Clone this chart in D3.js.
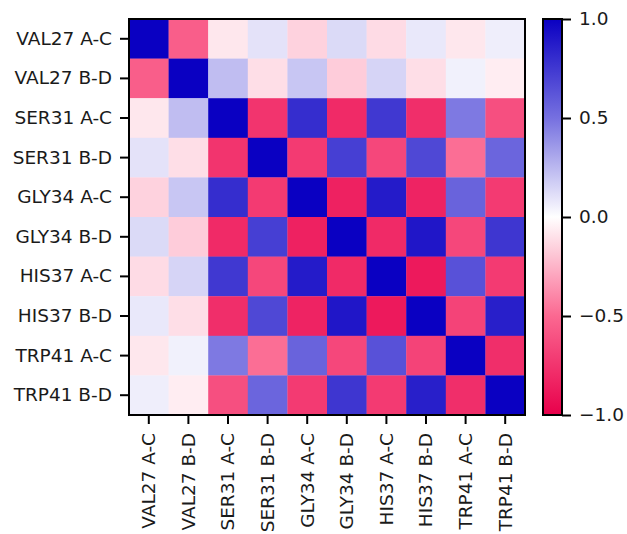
<!DOCTYPE html>
<html>
<head>
<meta charset="utf-8">
<script src="https://cdn.jsdelivr.net/npm/d3@7"></script>
<style>
  body { margin: 0; background: #fff; }
  svg text { font-family: "DejaVu Sans", sans-serif; fill: #1a1a1a; }
</style>
</head>
<body>
<div id="chart"></div>
<script>
// Residue pair labels (rows and columns)
const labels = ["VAL27 A-C", "VAL27 B-D", "SER31 A-C", "SER31 B-D", "GLY34 A-C",
                "GLY34 B-D", "HIS37 A-C", "HIS37 B-D", "TRP41 A-C", "TRP41 B-D"];

// Correlation values, one row per label
const row0 = [ 1.00, -0.55, -0.08,  0.10, -0.15,  0.13, -0.12,  0.08, -0.08,  0.06];
const row1 = [-0.55,  1.00,  0.23, -0.11,  0.20, -0.17,  0.15, -0.11,  0.05, -0.06];
const row2 = [-0.08,  0.23,  1.00, -0.75,  0.80, -0.80,  0.75, -0.78,  0.47, -0.62];
const row3 = [ 0.10, -0.11, -0.75,  1.00, -0.72,  0.72, -0.66,  0.68, -0.48,  0.55];
const row4 = [-0.15,  0.20,  0.80, -0.72,  1.00, -0.84,  0.88, -0.83,  0.56, -0.72];
const row5 = [ 0.13, -0.17, -0.80,  0.72, -0.84,  1.00, -0.80,  0.90, -0.66,  0.76];
const row6 = [-0.12,  0.15,  0.75, -0.66,  0.88, -0.80,  1.00, -0.88,  0.64, -0.72];
const row7 = [ 0.08, -0.11, -0.78,  0.68, -0.83,  0.90, -0.88,  1.00, -0.68,  0.86];
const row8 = [-0.08,  0.05,  0.47, -0.48,  0.56, -0.66,  0.64, -0.68,  1.00, -0.78];
const row9 = [ 0.06, -0.06, -0.62,  0.55, -0.72,  0.76, -0.72,  0.86, -0.78,  1.00];
const matrix = [row0, row1, row2, row3, row4, row5, row6, row7, row8, row9];

// Colorbar ticks
const cbarTicks = [-1.0, -0.5, 0.0, 0.5, 1.0];

const W = 627, H = 534;
const plot = { left: 129, top: 19, size: 396 };
const cbar = { left: 543, top: 19, width: 19, height: 396 };
const fontSize = "18.5px";

const svg = d3.select("#chart").append("svg")
    .attr("width", W)
    .attr("height", H);

const color = d3.scaleLinear()
    .domain([-1, -0.5, 0, 0.5, 1])
    .range(["#e8004b", "#fb6891", "#ffffff", "#7670e0", "#0a00c2"])
    .interpolate(d3.interpolateRgb);

const x = d3.scaleBand().domain(labels).range([0, plot.size]);
const y = d3.scaleBand().domain(labels).range([0, plot.size]);

const g = svg.append("g")
    .attr("transform", `translate(${plot.left},${plot.top})`);

// Cells
const cells = [];
matrix.forEach((row, i) => row.forEach((v, j) => cells.push({ r: labels[i], c: labels[j], v })));

g.selectAll("rect.cell")
    .data(cells)
    .enter()
    .append("rect")
    .attr("class", "cell")
    .attr("x", d => x(d.c))
    .attr("y", d => y(d.r))
    .attr("width", x.bandwidth() + 0.3)
    .attr("height", y.bandwidth() + 0.3)
    .attr("fill", d => color(d.v));

// Axes
const yAxis = g.append("g")
    .call(d3.axisLeft(y).tickSize(9).tickPadding(8));
const xAxis = g.append("g")
    .attr("transform", `translate(0,${plot.size})`)
    .call(d3.axisBottom(x).tickSize(9).tickPadding(8));

[xAxis, yAxis].forEach(a => {
    a.select(".domain").remove();
    a.selectAll(".tick line").attr("stroke", "#000").attr("stroke-width", 2);
    a.selectAll("text").attr("font-size", fontSize).attr("fill", "#1a1a1a");
});

xAxis.selectAll("text")
    .attr("transform", "rotate(-90)")
    .attr("text-anchor", "end")
    .attr("x", -18)
    .attr("y", 0)
    .attr("dy", "0.35em");

// Frame
g.append("rect")
    .attr("width", plot.size)
    .attr("height", plot.size)
    .attr("fill", "none")
    .attr("stroke", "#000")
    .attr("stroke-width", 2);

// Colorbar
const defs = svg.append("defs");
const grad = defs.append("linearGradient")
    .attr("id", "cbar-grad")
    .attr("x1", 0).attr("y1", 1).attr("x2", 0).attr("y2", 0);
d3.range(0, 1.0001, 0.05).forEach(t => {
    grad.append("stop")
        .attr("offset", t)
        .attr("stop-color", color(-1 + 2 * t));
});

const cb = svg.append("g")
    .attr("transform", `translate(${cbar.left},${cbar.top})`);

cb.append("rect")
    .attr("width", cbar.width)
    .attr("height", cbar.height)
    .attr("fill", "url(#cbar-grad)");

const cy = d3.scaleLinear().domain([-1, 1]).range([cbar.height, 0]);
const cbAxis = cb.append("g")
    .attr("transform", `translate(${cbar.width},0)`)
    .call(d3.axisRight(cy).tickValues(cbarTicks).tickSize(9).tickPadding(8)
        .tickFormat(d => d3.format(".1f")(d).replace("-", "\u2212")));
cbAxis.select(".domain").remove();
cbAxis.selectAll(".tick line").attr("stroke", "#000").attr("stroke-width", 2);
cbAxis.selectAll("text").attr("font-size", fontSize).attr("fill", "#1a1a1a");

cb.append("rect")
    .attr("width", cbar.width)
    .attr("height", cbar.height)
    .attr("fill", "none")
    .attr("stroke", "#000")
    .attr("stroke-width", 2);
</script>
</body>
</html>
